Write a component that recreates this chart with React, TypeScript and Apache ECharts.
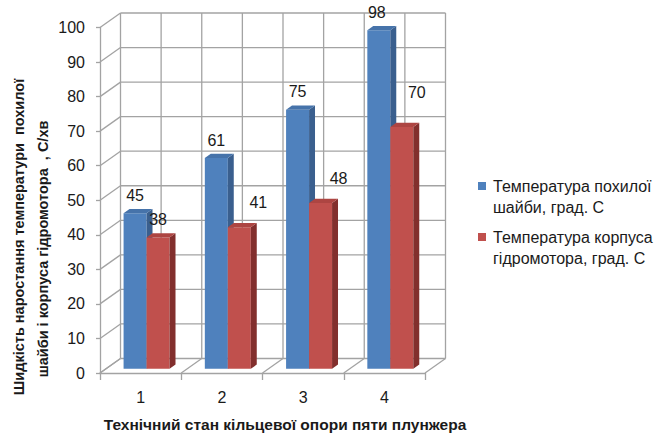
import { useEffect, useRef } from 'react';
import * as echarts from 'echarts';

// ---- data ----
const categories = ['1', '2', '3', '4'];
const washerTemps = [45, 61, 75, 98];
const housingTemps = [38, 41, 48, 70];
const yTickValues = [0, 10, 20, 30, 40, 50, 60, 70, 80, 90, 100];

const washerName = 'Температура похилої шайби, град. С';
const housingName = 'Температура корпуса гідромотора, град. С';
const washerLegendLines = ['Температура похилої', 'шайби, град. С'];
const housingLegendLines = ['Температура корпуса', 'гідромотора, град. С'];
const xTitle = 'Технічний стан кільцевої опори пяти плунжера';
const yTitleLines = [
  'Шидкість наростання температури  похилої',
  'шайби і корпуса гідромотора  , С/хв',
];

// ---- layout / style ----
const FONT = 'Liberation Sans';
const TEXT_COLOR = '#1a1a1a';
const GRID_COLOR = '#a3a3a3';
const GRID_W = 1.3;
const LABEL_SIZE = 16;
const DEPTH: [number, number] = [20.5, -14.5]; // oblique offset from front plane to back wall
const BAR_FRONT = 0.29; // bar front face depth (fraction of DEPTH)
const BAR_BACK = 0.58; // bar back face depth
const BAR_RATIO = 0.283; // one bar's width relative to a category band

const washerColors = { front: '#4f81bd', side: '#3a5f8e', top: '#4673aa' };
const housingColors = { front: '#c0504d', side: '#822f2d', top: '#ad4542' };

// value-label nudges [dx, lift above the bar top]
const washerLabelNudge: [number, number][] = [[0, 18], [0, 18], [0, 18], [-2, 18]];
const housingLabelNudge: [number, number][] = [[0, 18], [19, 25], [18, 24], [15, 34]];

function wallsRender(_params: any, api: any) {
  const origin = api.coord([0, 0]);
  const bw = api.size([1, 0])[0];
  const left = origin[0] - bw / 2;
  const right = left + bw * categories.length;
  const y0 = origin[1];
  const yTop = api.coord([0, yTickValues[yTickValues.length - 1]])[1];
  const [dx, dy] = DEPTH;
  const children: any[] = [];
  const line = (x1: number, y1: number, x2: number, y2: number) =>
    children.push({
      type: 'line',
      shape: { x1, y1, x2, y2 },
      style: { stroke: GRID_COLOR, lineWidth: GRID_W },
    });
  // back wall horizontals and left wall diagonals
  yTickValues.forEach((v) => {
    const y = api.coord([0, v])[1];
    line(left, y, left + dx, y + dy);
    line(left + dx, y + dy, right + dx, y + dy);
  });
  // back wall verticals (every half category)
  for (let k = 0; k <= categories.length * 2; k++) {
    const x = left + (k * bw) / 2 + dx;
    line(x, y0 + dy, x, yTop + dy);
  }
  // floor diagonals at category boundaries
  for (let k = 0; k <= categories.length; k++) {
    const x = left + k * bw;
    line(x, y0, x + dx, y0 + dy);
  }
  return { type: 'group', children };
}

function makeBarRender(
  side: 'left' | 'right',
  colors: { front: string; side: string; top: string },
  nudges: [number, number][]
) {
  return (params: any, api: any) => {
    const cat = api.value(0);
    const val = api.value(1);
    const base = api.coord([cat, 0]);
    const top = api.coord([cat, val]);
    const bw = api.size([1, 0])[0];
    const w = bw * BAR_RATIO;
    const ox = DEPTH[0] * BAR_FRONT;
    const oy = DEPTH[1] * BAR_FRONT;
    const ddx = DEPTH[0] * (BAR_BACK - BAR_FRONT);
    const ddy = DEPTH[1] * (BAR_BACK - BAR_FRONT);
    const cx = base[0] + ox;
    const x0 = side === 'left' ? cx - w : cx;
    const x1 = x0 + w;
    const yb = base[1] + oy;
    const yt = top[1] + oy;
    const [ndx, lift] = nudges[params.dataIndex] || [0, 18];
    return {
      type: 'group',
      children: [
        {
          type: 'rect',
          shape: { x: x0, y: yt, width: w, height: yb - yt },
          style: { fill: colors.front },
        },
        {
          type: 'polygon',
          shape: { points: [[x1, yb], [x1, yt], [x1 + ddx, yt + ddy], [x1 + ddx, yb + ddy]] },
          style: { fill: colors.side },
        },
        {
          type: 'polygon',
          shape: { points: [[x0, yt], [x1, yt], [x1 + ddx, yt + ddy], [x0 + ddx, yt + ddy]] },
          style: { fill: colors.top },
        },
        {
          type: 'text',
          z2: 10,
          style: {
            text: String(val),
            x: (x0 + x1) / 2 + ndx,
            y: yt - lift,
            align: 'center',
            verticalAlign: 'middle',
            fontSize: LABEL_SIZE,
            fontFamily: FONT,
            fill: TEXT_COLOR,
          },
        },
      ],
    };
  };
}

function legendBlock(y: number, color: string, lines: string[]) {
  return [
    { type: 'rect', shape: { x: 478, y: y - 4, width: 8, height: 8 }, style: { fill: color } },
    {
      type: 'text',
      x: 493,
      y: y - 10.5,
      style: {
        text: lines.join('\n'),
        fontSize: 16,
        lineHeight: 21,
        fontFamily: FONT,
        fill: TEXT_COLOR,
        align: 'left',
        verticalAlign: 'top',
      },
    },
  ];
}

export default function App() {
  const ref = useRef<HTMLDivElement>(null);

  useEffect(() => {
    if (!ref.current) return;
    const chart = echarts.init(ref.current, null, { renderer: 'svg' });
    const axisLine = { show: true, lineStyle: { color: GRID_COLOR, width: GRID_W } };
    chart.setOption({
      animation: false,
      backgroundColor: '#ffffff',
      textStyle: { fontFamily: FONT },
      grid: {
        left: 100,
        top: 27.5,
        width: 325,
        height: 345.5,
        containLabel: false,
        outerBoundsMode: 'none',
      },
      xAxis: {
        type: 'category',
        data: categories,
        boundaryGap: true,
        axisLine,
        axisTick: { show: true, length: 7, interval: 0, lineStyle: { color: GRID_COLOR, width: GRID_W } },
        axisLabel: { margin: 16, fontSize: LABEL_SIZE, color: TEXT_COLOR, fontFamily: FONT },
        splitLine: { show: false },
      },
      yAxis: {
        type: 'value',
        min: 0,
        max: 100,
        interval: 10,
        axisLine,
        axisTick: { show: true, length: 4, lineStyle: { color: GRID_COLOR, width: GRID_W } },
        axisLabel: { margin: 15, fontSize: LABEL_SIZE, color: TEXT_COLOR, fontFamily: FONT },
        splitLine: { show: false },
      },
      series: [
        {
          type: 'custom',
          name: 'walls',
          silent: true,
          z: 1,
          data: [[0, 0]],
          renderItem: wallsRender,
        },
        {
          type: 'custom',
          name: washerName,
          z: 2,
          data: washerTemps.map((v, i) => [i, v]),
          renderItem: makeBarRender('left', washerColors, washerLabelNudge),
        },
        {
          type: 'custom',
          name: housingName,
          z: 3,
          data: housingTemps.map((v, i) => [i, v]),
          renderItem: makeBarRender('right', housingColors, housingLabelNudge),
        },
      ],
      graphic: [
        ...legendBlock(186, washerColors.front, washerLegendLines),
        ...legendBlock(237, housingColors.front, housingLegendLines),
        {
          type: 'text',
          x: 285,
          y: 424,
          style: {
            text: xTitle,
            fontSize: 15.5,
            fontWeight: 'bold',
            fontFamily: FONT,
            fill: TEXT_COLOR,
            align: 'center',
            verticalAlign: 'middle',
          },
        },
        {
          type: 'text',
          x: 19,
          y: 237,
          rotation: Math.PI / 2,
          style: {
            text: yTitleLines[0],
            fontSize: 14.5,
            fontWeight: 'bold',
            fontFamily: FONT,
            fill: TEXT_COLOR,
            align: 'center',
            verticalAlign: 'middle',
          },
        },
        {
          type: 'text',
          x: 42.5,
          y: 249,
          rotation: Math.PI / 2,
          style: {
            text: yTitleLines[1],
            fontSize: 14.5,
            fontWeight: 'bold',
            fontFamily: FONT,
            fill: TEXT_COLOR,
            align: 'center',
            verticalAlign: 'middle',
          },
        },
      ],
    });
    return () => chart.dispose();
  }, []);

  return (
    <div
      ref={ref}
      style={{ position: 'fixed', left: 0, top: 0, width: 661, height: 434, background: '#fff' }}
    />
  );
}
